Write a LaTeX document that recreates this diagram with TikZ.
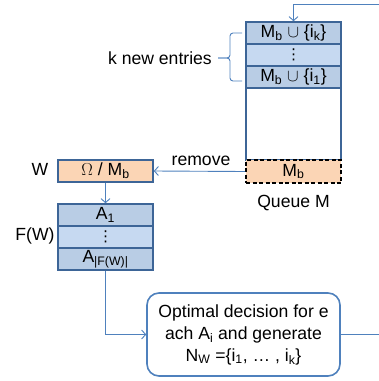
\documentclass[tikz,border=0pt]{standalone}
\usepackage{fontspec}
\setmainfont{Liberation Sans}
\newfontfamily\dejavu{DejaVu Sans}
\usetikzlibrary{arrows.meta}
\definecolor{rowdark}{HTML}{B9CDE5}
\definecolor{rowlight}{HTML}{C6D9F1}
\definecolor{rowborder}{HTML}{3D6597}
\definecolor{conn}{HTML}{4F81BD}
\definecolor{peach}{HTML}{FBD5B5}
\newcommand{\sbs}[1]{\textsubscript{#1}}
\newcommand{\smalldots}{{\dejavu\fontsize{15}{15}\selectfont ⋮}}
\begin{document}
\begin{tikzpicture}[x=1pt,y=-1pt,
  every node/.style={font=\fontsize{17.6}{22}\selectfont, inner sep=0pt},
  row/.style={draw=rowborder, line width=1.6pt, minimum width=95pt, minimum height=22pt, anchor=center},
  drow/.style={row, fill=rowdark},
  lrow/.style={row, fill=rowlight},
  conline/.style={draw=conn, line width=0.9pt},
  arr/.style={conline, -{Straight Barb[length=4pt,width=9pt]}},
  lbl/.style={anchor=base}]
\useasboundingbox (0,0) rectangle (379,381);
% Queue M
\node[row, minimum height=72pt] (qe) at (293.5,124) {};
\node[drow] (q1) at (293.5,33) {M\sbs{b} $\cup$ \{i\sbs{k}\}};
\node[lrow] (q2) at (293.5,55) {\smalldots};
\node[drow] (q3) at (293.5,77) {M\sbs{b} $\cup$ \{i\sbs{1}\}};
\node[draw=black, dashed, dash pattern=on 4pt off 2.5pt, line width=1.6pt, fill=peach, minimum width=95pt, minimum height=23pt] (mb) at (293.5,171.5) {M\sbs{b}};
\node[lbl] (ql) at (293.5,207) {Queue M};
% brace
\draw[conline, rounded corners=3pt] (242,33) -- (230,33) -- (230,58) -- (218,58);
\draw[conline, rounded corners=3pt] (218,58) -- (230,58) -- (230,81) -- (242,81);
\node[lbl, anchor=base east] (kn) at (212,64) {k new entries};
% W
\node[row, fill=peach] (w) at (105.5,171) {$\Omega$ / M\sbs{b}};
\node[lbl] (wl) at (40,175) {W};
\node[lbl] (rm) at (201,165) {remove};
% F(W)
\node[drow] (f1) at (105.5,215) {A\sbs{1}};
\node[lrow] (f2) at (105.5,237) {\smalldots};
\node[drow] (f3) at (105.5,259) {A\sbs{|F(W)|}};
\node[lbl] (fl) at (35,240) {F(W)};
% decision box
\node[draw=conn, line width=1.6pt, rounded corners=12pt, minimum width=193pt, minimum height=83pt, align=center, fill=white] (dec) at (243.5,334.5)
  {Optimal decision for e\\ach A\sbs{i} and generate\\N\sbs{W} =\{i\sbs{1}, … , i\sbs{k}\}};
% connectors
\coordinate (tin) at (379,4);
\coordinate (tout) at (379,334.5);
\draw[arr] (tin) -- (q1.north |- tin) -- (q1.north);
\draw[arr] (mb.west) -- (w.east);
\draw[arr] (w.south) -- (f1.north);
\draw[arr] (f3.south) |- (dec.west);
\draw[conline] (dec.east) -- (tout);
\end{tikzpicture}
\end{document}
